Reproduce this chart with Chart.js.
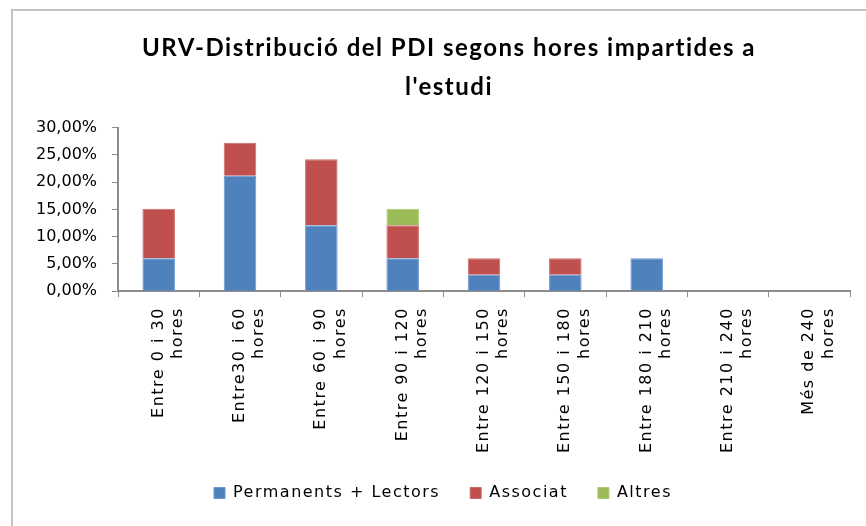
<!DOCTYPE html>
<html lang="ca">
<head>
<meta charset="UTF-8">
<title>URV-Distribució del PDI</title>
<script src="https://cdn.jsdelivr.net/npm/chart.js"></script>
<style>
    html, body { margin: 0; padding: 0; background: #fff; }
    .wrap { position: relative; width: 866px; height: 526px; overflow: hidden; }
    .frame { position: absolute; left: 11px; top: 9px; width: 900px; height: 600px;
             border-left: 2px solid #c4c4c4; border-top: 2px solid #c4c4c4; }
    canvas { position: absolute; left: 0; top: 0; }
</style>
</head>
<body>
<div class="wrap">
    <div class="frame"></div>
    <canvas id="chart" width="866" height="526"></canvas>
</div>
<script>
    // categories and series (percent of PDI)
    const categories = [
        ['Entre 0 i 30', 'hores'],
        ['Entre30 i 60', 'hores'],
        ['Entre 60 i 90', 'hores'],
        ['Entre 90 i 120', 'hores'],
        ['Entre 120 i 150', 'hores'],
        ['Entre 150 i 180', 'hores'],
        ['Entre 180 i 210', 'hores'],
        ['Entre 210 i 240', 'hores'],
        ['Més de 240', 'hores']
    ];
    const permanents = [6.06, 21.21, 12.12, 6.06, 3.03, 3.03, 6.06, 0, 0];
    const associat = [9.09, 6.06, 12.12, 6.06, 3.03, 3.03, 0, 0, 0];
    const altres = [0, 0, 0, 3.03, 0, 0, 0, 0, 0];
    const yTicks = [0, 5, 10, 15, 20, 25, 30];

    const axisColor = '#8c8c8c';

    // the original text is drawn a bit spaced out (except the y labels)
    const spacing = {
        id: 'spacing',
        beforeUpdate: chart => { chart.ctx.letterSpacing = '1.5px'; },
        beforeDraw: chart => { chart.ctx.letterSpacing = '1.5px'; },
        afterLayout: chart => {
            const ys = chart.scales.y;
            if (!ys._plain) {
                const draw = ys.drawLabels;
                ys.drawLabels = function (area) {
                    const prev = this.ctx.letterSpacing;
                    this.ctx.letterSpacing = '0px';
                    draw.call(this, area);
                    this.ctx.letterSpacing = prev;
                };
                ys._plain = true;
            }
            // title and legend sit a little right of centre
            chart.titleBlock.left += 18;
            chart.titleBlock.right += 18;
            chart.legend.left += 12;
            chart.legend.right += 12;
        }
    };

    new Chart(document.getElementById('chart'), {
        type: 'bar',
        data: {
            labels: categories,
            datasets: [
                { label: 'Permanents + Lectors', data: permanents, backgroundColor: '#4f81bd', borderColor: '#6a96cc', borderWidth: 1 },
                { label: 'Associat', data: associat, backgroundColor: '#c0504d', borderColor: '#cc6a67', borderWidth: 1 },
                { label: 'Altres', data: altres, backgroundColor: '#9bbb59', borderColor: '#acc872', borderWidth: 1 }
            ]
        },
        plugins: [spacing],
        options: {
            responsive: false,
            animation: false,
            datasets: { bar: { categoryPercentage: 1, barPercentage: 0.4 } },
            layout: { padding: { left: 12, right: 16, top: 8, bottom: 15 } },
            plugins: {
                title: {
                    display: true,
                    text: ["URV-Distribució del PDI segons hores impartides a", "l'estudi"],
                    color: '#000',
                    font: { family: 'Lato', size: 24, weight: 'bold', lineHeight: 1.62 },
                    padding: { top: 21, bottom: 21 }
                },
                legend: {
                    position: 'bottom',
                    labels: {
                        color: '#000',
                        font: { family: 'DejaVu Sans', size: 16 },
                        boxWidth: 11,
                        boxHeight: 11,
                        padding: 30
                    }
                },
                tooltip: { enabled: false }
            },
            scales: {
                x: {
                    stacked: true,
                    afterFit: scale => { scale.height -= 8; },
                    grid: { drawOnChartArea: false, drawTicks: true, tickLength: 6, color: axisColor },
                    border: { color: axisColor, width: 2 },
                    ticks: {
                        color: '#000',
                        font: { family: 'DejaVu Sans', size: 16 },
                        minRotation: 90,
                        maxRotation: 90,
                        autoSkip: false,
                        padding: 10
                    }
                },
                y: {
                    stacked: true,
                    min: 0,
                    max: 30,
                    afterBuildTicks: axis => { axis.ticks = yTicks.map(v => ({ value: v })); },
                    grid: { drawOnChartArea: false, drawTicks: true, tickLength: 6, color: axisColor },
                    border: { color: axisColor, width: 2 },
                    ticks: {
                        color: '#000',
                        font: { family: 'DejaVu Sans', size: 16 },
                        padding: 15,
                        callback: v => v.toFixed(2).replace('.', ',') + '%'
                    }
                }
            }
        }
    });
</script>
</body>
</html>
